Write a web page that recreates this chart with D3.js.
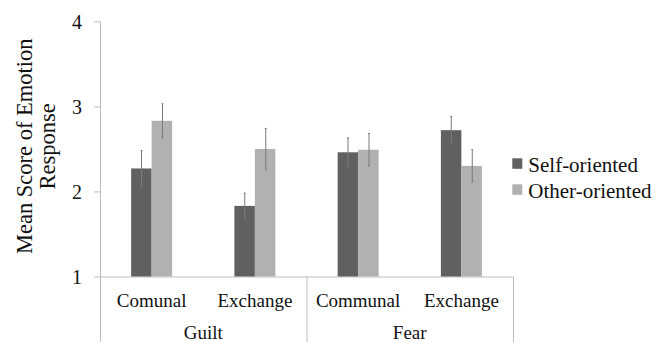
<!DOCTYPE html>
<html>
<head>
<meta charset="utf-8">
<script src="https://cdn.jsdelivr.net/npm/d3@7"></script>
<style>
  html, body { margin: 0; padding: 0; background: #fff; }
  svg { display: block; }
</style>
</head>
<body>
<svg id="chart" width="664" height="342"></svg>
<script>
// Emotion response means by relationship type, grouped by emotion
const emotions = ["Guilt", "Fear"];
const relations = ["Comunal", "Exchange", "Communal", "Exchange"];
const emotionOf = ["Guilt", "Guilt", "Fear", "Fear"];
const seriesNames = ["Self-oriented", "Other-oriented"];
const selfValues = [2.27, 1.83, 2.46, 2.72];
const otherValues = [2.83, 2.50, 2.49, 2.30];
const selfErrors = [0.21, 0.15, 0.17, 0.16];
const otherErrors = [0.20, 0.24, 0.19, 0.19];
const yTicks = [1, 2, 3, 4];
const seriesColors = ["#606060", "#b1b1b1"];

const FONT = "Liberation Serif";
const svg = d3.select("#chart");
const plotLeft = 100, plotRight = 513, plotTop = 21.3, plotBottom = 276.5;

const x0 = d3.scaleBand().domain(d3.range(relations.length)).range([plotLeft, plotRight]).paddingInner(0).paddingOuter(0);
const x1 = d3.scaleBand().domain(seriesNames).range([0, x0.bandwidth()]).paddingInner(0).paddingOuter(1.52);
const y = d3.scaleLinear().domain([1, 4]).range([plotBottom, plotTop]);

const axisColor = "#bdbdbd";
const textColor = "#111";

// y axis
const yAxis = svg.append("g")
  .attr("transform", `translate(${plotLeft},0)`)
  .call(d3.axisLeft(y).tickValues(yTicks).tickFormat(d3.format("d")).tickSizeInner(6).tickSizeOuter(0).tickPadding(12));
yAxis.attr("font-family", null).attr("font-size", null);
yAxis.select(".domain").remove();
yAxis.selectAll(".tick line").attr("stroke", axisColor);
yAxis.selectAll(".tick text").attr("fill", textColor).attr("dy", "0.36em")
  .attr("font-family", FONT).attr("font-size", 20);
svg.append("line").attr("x1", plotLeft + 0.5).attr("x2", plotLeft + 0.5)
  .attr("y1", y(4)).attr("y2", 342).attr("stroke", axisColor);

// x axis baseline and grouping dividers
svg.append("line").attr("x1", plotLeft).attr("x2", plotRight)
  .attr("y1", y(1) + 0.5).attr("y2", y(1) + 0.5).attr("stroke", axisColor);
const groupEdges = [x0(2), plotRight];
groupEdges.forEach(gx => {
  svg.append("line").attr("x1", gx + 0.5).attr("x2", gx + 0.5)
    .attr("y1", y(1)).attr("y2", 342).attr("stroke", axisColor);
});

// bars
const rows = relations.map((r, i) => ({ i, vals: [selfValues[i], otherValues[i]], errs: [selfErrors[i], otherErrors[i]] }));
const groups = svg.append("g").selectAll("g").data(rows).join("g")
  .attr("transform", d => `translate(${x0(d.i)},0)`);
groups.selectAll("rect").data(d => d.vals.map((v, k) => ({ v, k, e: d.errs[k] }))).join("rect")
  .attr("x", d => x1(seriesNames[d.k]))
  .attr("width", x1.bandwidth())
  .attr("y", d => y(d.v))
  .attr("height", d => y(1) - y(d.v))
  .attr("fill", d => seriesColors[d.k]);

// error bars
groups.selectAll("g.err").data(d => d.vals.map((v, k) => ({ v, k, e: d.errs[k] }))).join("g")
  .attr("class", "err")
  .each(function(d) {
    const cx = Math.round(x1(seriesNames[d.k]) + x1.bandwidth() / 2) + 0.5;
    const g = d3.select(this);
    g.append("line").attr("x1", cx).attr("x2", cx)
      .attr("y1", y(d.v + d.e)).attr("y2", y(d.v - d.e))
      .attr("stroke", "#7a7a7a").attr("stroke-width", 1);
    [d.v + d.e, d.v - d.e].forEach(t => {
      g.append("line").attr("x1", cx - 1).attr("x2", cx + 1)
        .attr("y1", y(t)).attr("y2", y(t)).attr("stroke", "#7a7a7a");
    });
  });

// category labels
svg.append("g").selectAll("text").data(relations).join("text")
  .attr("x", (d, i) => x0(i) + x0.bandwidth() / 2)
  .attr("y", 306.5)
  .attr("text-anchor", "middle")
  .attr("font-family", FONT).attr("font-size", 19).attr("fill", textColor)
  .text(d => d);

// emotion group labels
svg.append("g").selectAll("text").data(emotions).join("text")
  .attr("x", d => {
    const idx = emotionOf.map((e, i) => e === d ? i : -1).filter(i => i >= 0);
    return (x0(idx[0]) + x0(idx[idx.length - 1]) + x0.bandwidth()) / 2;
  })
  .attr("y", 338.5)
  .attr("text-anchor", "middle")
  .attr("font-family", FONT).attr("font-size", 19).attr("fill", textColor)
  .text(d => d);

// y axis title
const title = svg.append("text")
  .attr("transform", `translate(32,146.3) rotate(-90)`)
  .attr("text-anchor", "middle")
  .attr("font-family", FONT).attr("font-size", 22.5).attr("fill", textColor);
title.append("tspan").attr("x", 0).attr("dy", 0).text("Mean Score of Emotion");
title.append("tspan").attr("x", 0).attr("dy", 22.5).text("Response");

// legend
const legend = svg.append("g").selectAll("g").data(seriesNames).join("g")
  .attr("transform", (d, i) => `translate(512.3,${158.3 + i * 26})`);
legend.append("rect").attr("width", 10).attr("height", 10.5).attr("fill", (d, i) => seriesColors[i]);
legend.append("text").attr("x", 16).attr("y", 13.5)
  .attr("font-family", FONT).attr("font-size", 21).attr("fill", textColor).text(d => d);
</script>
</body>
</html>
